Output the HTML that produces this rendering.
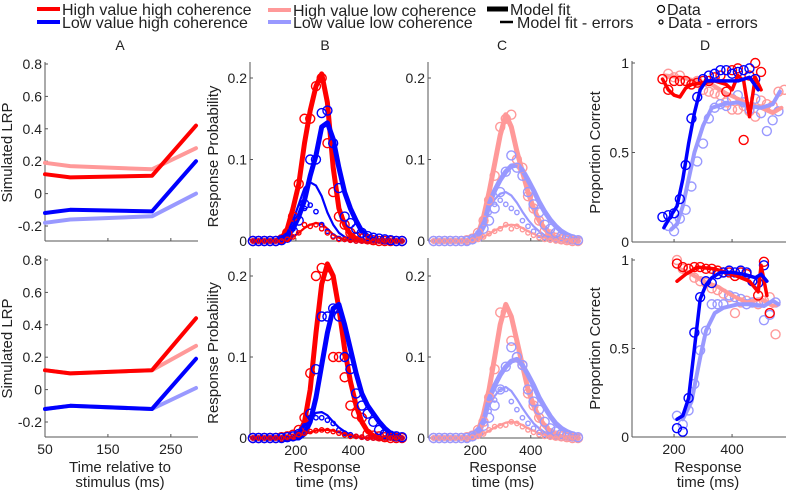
<!DOCTYPE html>
<html><head><meta charset="utf-8"><style>
body{margin:0;background:#fff}
svg text{font-family:"Liberation Sans",sans-serif;fill:#222}
</style></head><body>
<svg id="fig" width="786" height="490" viewBox="0 0 786 490" xmlns="http://www.w3.org/2000/svg">
<g>
<line x1="37" y1="9" x2="60" y2="9" stroke="#f00" stroke-width="4"/>
<text x="62" y="15" font-size="16">High value high coherence</text>
<line x1="37" y1="22" x2="60" y2="22" stroke="#00f" stroke-width="4"/>
<text x="62" y="28" font-size="16">Low value high coherence</text>
<line x1="268" y1="10" x2="291" y2="10" stroke="#ff9999" stroke-width="4"/>
<text x="293" y="16" font-size="16">High value low coherence</text>
<line x1="268" y1="22" x2="291" y2="22" stroke="#9999ff" stroke-width="4"/>
<text x="293" y="28" font-size="16">Low value low coherence</text>
<line x1="487" y1="9" x2="508" y2="9" stroke="#000" stroke-width="5"/>
<text x="510" y="15" font-size="16">Model fit</text>
<line x1="500" y1="22" x2="513" y2="22" stroke="#000" stroke-width="2.5"/>
<text x="517" y="28" font-size="16">Model fit - errors</text>
<circle cx="661" cy="9" r="3.5" fill="none" stroke="#000" stroke-width="1.2"/>
<text x="667" y="15" font-size="16">Data</text>
<circle cx="661" cy="22" r="2" fill="none" stroke="#000" stroke-width="1.2"/>
<text x="668" y="28" font-size="16">Data - errors</text>
</g>
<text x="120" y="50" font-size="14" text-anchor="middle">A</text>
<text x="325" y="50" font-size="14" text-anchor="middle">B</text>
<text x="502" y="50" font-size="14" text-anchor="middle">C</text>
<text x="705" y="50" font-size="14" text-anchor="middle">D</text>
</svg>
<script>
// ---------- Panel A data ----------
const aT = [50, 90, 220, 290];
const aTopRed = [0.12, 0.10, 0.11, 0.42];
const aTopPink = [0.19, 0.17, 0.15, 0.28];
const aTopBlue = [-0.12, -0.10, -0.11, 0.20];
const aTopLBlue = [-0.18, -0.16, -0.14, 0.0];
const aBotRed = [0.12, 0.10, 0.12, 0.44];
const aBotPink = [0.12, 0.10, 0.12, 0.27];
const aBotBlue = [-0.12, -0.10, -0.12, 0.19];
const aBotLBlue = [-0.12, -0.10, -0.12, 0.01];
const aYTicks = [0.8, 0.6, 0.4, 0.2, 0, -0.2];
const aYTickLabels = ["0.8", "0.6", "0.4", "0.2", "0", "-0.2"];
const aXTicks = [50, 150, 250];
// ---------- Panels B/C data ----------
const rtBins = [50,70,90,110,130,150,170,190,210,230,250,270,290,310,330,350,370,390,410,430,450,470,490,510,530,550,570];
const bTopRedFit = [0,0,0,0,0,0.003,0.015,0.04,0.07,0.12,0.16,0.19,0.205,0.17,0.09,0.04,0.02,0.008,0.003,0,0,0,0,0,0,0,0];
const bTopBlueFit = [0,0,0,0,0,0,0.005,0.015,0.03,0.05,0.08,0.105,0.14,0.145,0.125,0.09,0.06,0.04,0.025,0.012,0.006,0.002,0,0,0,0,0];
const bTopBlueErrFit = [0,0,0,0,0,0.003,0.01,0.025,0.045,0.065,0.072,0.068,0.055,0.035,0.02,0.01,0.005,0.002,0,0,0,0,0,0,0,0,0];
const bTopRedErrFit = [0,0,0,0,0,0,0,0.005,0.01,0.016,0.02,0.022,0.021,0.015,0.008,0.004,0.002,0,0,0,0,0,0,0,0,0,0];
const bTopRedData = [0,0,0,0,0,0.002,0.01,0.03,0.07,0.15,0.15,0.19,0.2,0.12,0.06,0.03,0.02,0.01,0.005,0.003,0.002,0.001,0,0,0,0,0];
const bTopBlueData = [0,0,0,0,0,0.001,0.004,0.012,0.025,0.045,0.1,0.1,0.157,0.16,0.12,0.065,0.03,0.022,0.015,0.01,0.006,0.004,0.003,0.002,0.001,0,0];
const bTopBlueErrData = [0,0,0,0,0,0.002,0.006,0.015,0.03,0.04,0.044,0.036,0.02,0.012,0.006,0.003,0.002,0.001,0,0,0,0,0,0,0,0,0];
const bTopRedErrData = [0,0,0,0,0,0,0.002,0.005,0.01,0.02,0.018,0.02,0.015,0.01,0.005,0.002,0.002,0.001,0,0,0,0,0,0,0,0,0];
const bBotRedFit = [0,0,0,0,0,0,0,0,0.005,0.02,0.06,0.13,0.19,0.215,0.2,0.16,0.11,0.07,0.04,0.02,0.008,0.003,0,0,0,0,0];
const bBotBlueFit = [0,0,0,0,0,0,0,0,0,0.005,0.02,0.05,0.09,0.13,0.16,0.165,0.14,0.11,0.08,0.055,0.04,0.03,0.02,0.012,0.006,0.003,0];
const bBotBlueErrFit = [0,0,0,0,0,0,0,0.002,0.006,0.015,0.025,0.031,0.032,0.028,0.02,0.013,0.008,0.004,0.002,0,0,0,0,0,0,0,0];
const bBotRedErrFit = [0,0,0,0,0,0,0,0.001,0.003,0.005,0.007,0.009,0.01,0.01,0.009,0.007,0.005,0.003,0.002,0.001,0,0,0,0,0,0,0];
const bBotRedData = [0,0,0,0,0,0.001,0.002,0.004,0.01,0.025,0.08,0.2,0.21,0.2,0.1,0.1,0.075,0.04,0.03,0.025,0.005,0.003,0.002,0.001,0,0,0];
const bBotBlueData = [0,0,0,0,0,0,0.001,0.002,0.005,0.01,0.03,0.085,0.15,0.15,0.16,0.15,0.1,0.085,0.055,0.04,0.03,0.02,0.01,0.005,0.003,0.002,0.001];
const bBotBlueErrData = [0,0,0,0,0,0,0,0.002,0.006,0.015,0.025,0.025,0.025,0.022,0.018,0.01,0.006,0.004,0.002,0.001,0,0,0,0,0,0,0];
const bBotRedErrData = [0,0,0,0,0,0,0.001,0.002,0.004,0.006,0.008,0.009,0.01,0.009,0.008,0.006,0.004,0.002,0.002,0.001,0,0,0,0,0,0,0];
const cTopPinkFit = [0,0,0,0,0,0,0,0.002,0.008,0.03,0.06,0.095,0.13,0.155,0.14,0.11,0.085,0.06,0.04,0.025,0.015,0.008,0.004,0.002,0,0,0];
const cTopLBlueFit = [0,0,0,0,0,0,0,0.002,0.005,0.018,0.045,0.062,0.075,0.085,0.092,0.093,0.087,0.075,0.062,0.048,0.036,0.026,0.018,0.012,0.008,0.005,0.003];
const cTopLBlueErrFit = [0,0,0,0,0,0,0,0.004,0.012,0.025,0.04,0.051,0.058,0.06,0.056,0.047,0.036,0.026,0.018,0.012,0.007,0.004,0.002,0,0,0,0];
const cTopPinkErrFit = [0,0,0,0,0,0,0,0,0.002,0.005,0.009,0.013,0.016,0.019,0.02,0.019,0.016,0.012,0.009,0.006,0.004,0.002,0,0,0,0,0];
const cTopPinkData = [0,0,0,0,0,0,0.001,0.003,0.01,0.025,0.05,0.08,0.14,0.15,0.155,0.1,0.09,0.055,0.04,0.025,0.012,0.008,0.004,0.002,0.001,0,0];
const cTopLBlueData = [0,0,0,0,0,0,0,0.002,0.005,0.015,0.025,0.04,0.06,0.085,0.105,0.09,0.08,0.06,0.045,0.035,0.02,0.015,0.01,0.006,0.004,0.002,0.001];
const cTopLBlueErrData = [0,0,0,0,0,0,0,0.003,0.01,0.02,0.035,0.045,0.05,0.045,0.04,0.035,0.025,0.018,0.012,0.007,0.004,0.002,0.001,0,0,0,0];
const cTopPinkErrData = [0,0,0,0,0,0,0,0.001,0.002,0.005,0.009,0.012,0.015,0.02,0.015,0.018,0.014,0.01,0.007,0.004,0.002,0.001,0,0,0,0,0];
const cBotPinkFit = [0,0,0,0,0,0,0,0.002,0.008,0.03,0.06,0.1,0.14,0.165,0.15,0.12,0.09,0.06,0.04,0.025,0.015,0.008,0.004,0.002,0,0,0];
const cBotLBlueFit = [0,0,0,0,0,0,0,0.002,0.005,0.02,0.048,0.065,0.078,0.088,0.095,0.097,0.09,0.078,0.065,0.05,0.038,0.027,0.018,0.012,0.008,0.005,0.003];
const cBotLBlueErrFit = [0,0,0,0,0,0,0,0.004,0.012,0.025,0.04,0.052,0.06,0.063,0.058,0.048,0.037,0.027,0.018,0.012,0.007,0.004,0.002,0,0,0,0];
const cBotPinkErrFit = [0,0,0,0,0,0,0,0,0.002,0.005,0.009,0.013,0.016,0.019,0.02,0.019,0.016,0.012,0.009,0.006,0.004,0.002,0,0,0,0,0];
const cBotPinkData = [0,0,0,0,0,0,0.001,0.003,0.01,0.02,0.05,0.085,0.155,0.155,0.12,0.1,0.09,0.055,0.04,0.025,0.012,0.006,0.003,0.002,0.001,0,0];
const cBotLBlueData = [0,0,0,0,0,0,0,0.002,0.006,0.015,0.025,0.04,0.06,0.088,0.112,0.1,0.09,0.06,0.045,0.035,0.02,0.012,0.008,0.005,0.003,0.002,0.001];
const cBotLBlueErrData = [0,0,0,0,0,0,0,0.003,0.01,0.02,0.033,0.047,0.06,0.06,0.045,0.035,0.025,0.018,0.012,0.007,0.004,0.002,0.001,0,0,0,0];
const cBotPinkErrData = [0,0,0,0,0,0,0,0.001,0.002,0.005,0.01,0.014,0.015,0.016,0.02,0.018,0.014,0.01,0.007,0.004,0.002,0.001,0,0,0,0,0];
const bcYTicks = [0, 0.1, 0.2];
const bcYTickLabels = ["0", "0.1", "0.2"];
const bcXTicks = [200, 400];
// ---------- Panel D data ----------
const dTopRedT = [160,180,200,220,240,260,300,340,380,400,420,440,460,480,500];
const dTopRedV = [0.91,0.85,0.82,0.81,0.86,0.88,0.89,0.90,0.88,0.85,0.93,0.90,0.70,0.92,0.85];
const dTopBlueT = [165,190,210,230,250,270,290,310,360,420,460,490];
const dTopBlueV = [0.08,0.15,0.20,0.35,0.55,0.72,0.85,0.90,0.90,0.90,0.92,0.85];
const dTopLBlueT = [190,210,230,250,270,300,330,370,420,460,500,540,565];
const dTopLBlueV = [0.07,0.10,0.20,0.35,0.50,0.65,0.75,0.77,0.78,0.76,0.75,0.77,0.84];
const dTopPinkT = [170,220,280,330,380,420,460,500,540,570];
const dTopPinkV = [0.93,0.92,0.90,0.88,0.83,0.80,0.77,0.75,0.72,0.75];
const dTopBlueDataT = [160,180,200,220,240,260,280,300,320,340,360,380,400,420,440,460,480];
const dTopBlueDataV = [0.14,0.15,0.16,0.24,0.43,0.69,0.81,0.91,0.93,0.94,0.96,0.96,0.94,0.95,0.96,0.97,0.91];
const dTopRedDataT = [160,180,200,220,240,260,280,300,320,340,360,380,400,420,440,460,480,500];
const dTopRedDataV = [0.91,0.85,0.9,0.9,0.9,0.88,0.89,0.9,0.9,0.92,0.93,0.84,0.96,0.97,0.57,0.93,1.0,0.95];
const dTopLBlueDataT = [180,200,220,240,260,280,300,320,340,360,380,400,420,440,460,480,500,520,540,560];
const dTopLBlueDataV = [0.09,0.06,0.13,0.18,0.31,0.45,0.55,0.69,0.75,0.77,0.76,0.8,0.82,0.78,0.74,0.8,0.72,0.62,0.68,0.73];
const dTopPinkDataT = [180,200,220,240,260,280,300,320,340,360,380,400,420,440,460,480,500,520,540,560,580];
const dTopPinkDataV = [0.94,0.92,0.93,0.9,0.88,0.9,0.85,0.84,0.83,0.82,0.78,0.74,0.74,0.76,0.73,0.7,0.79,0.77,0.76,0.84,0.85];
const dBotRedT = [210,240,280,340,400,460,490,500,520];
const dBotRedV = [0.88,0.92,0.96,0.95,0.92,0.88,0.82,0.97,0.80];
const dBotBlueT = [210,230,250,270,290,310,330,360,400,440,480,500,520];
const dBotBlueV = [0.10,0.12,0.22,0.50,0.78,0.86,0.90,0.93,0.93,0.92,0.90,0.92,0.88];
const dBotLBlueT = [230,260,290,310,340,370,420,470,510,540,560];
const dBotLBlueV = [0.10,0.20,0.45,0.60,0.70,0.73,0.75,0.75,0.74,0.77,0.75];
const dBotPinkT = [220,260,300,350,400,450,500,540,560];
const dBotPinkV = [0.95,0.92,0.88,0.85,0.80,0.76,0.78,0.74,0.75];
const dBotBlueDataT = [210,230,250,270,290,310,330,350,370,390,410,430,450,470,490,510];
const dBotBlueDataV = [0.05,0.03,0.22,0.59,0.79,0.88,0.87,0.92,0.93,0.94,0.93,0.94,0.93,0.88,0.87,0.97];
const dBotRedDataT = [210,230,250,270,290,310,330,350,370,390,410,430,450,470,490,510,530];
const dBotRedDataV = [0.98,0.96,0.95,0.96,0.96,0.95,0.95,0.94,0.93,0.93,0.91,0.93,0.92,0.88,0.8,0.99,0.7];
const dBotLBlueDataT = [210,230,250,270,290,310,330,350,370,390,410,430,450,470,490,510,530,550];
const dBotLBlueDataV = [0.12,0.07,0.15,0.3,0.49,0.6,0.75,0.75,0.75,0.8,0.79,0.78,0.75,0.76,0.76,0.66,0.69,0.76];
const dBotPinkDataT = [210,230,250,270,290,310,330,350,370,390,410,430,450,470,490,510,530,550];
const dBotPinkDataV = [1.0,0.95,0.95,0.9,0.88,0.87,0.84,0.83,0.81,0.79,0.7,0.76,0.77,0.76,0.75,0.77,0.79,0.58];
const dYTicks = [0, 0.5, 1];
const dYTickLabels = ["0", "0.5", "1"];
const dXTicks = [200, 400];

const NS = "http://www.w3.org/2000/svg";
const svg = document.getElementById("fig");
const RED = "#ff0000", BLUE = "#0000ff", PINK = "#ff9999", LBLUE = "#9999ff";

function mk(tag, attrs, parent) {
  const e = document.createElementNS(NS, tag);
  for (const k in attrs) e.setAttribute(k, attrs[k]);
  (parent || svg).appendChild(e);
  return e;
}
function makeScale(d0, d1, p0, p1) { return v => p0 + (v - d0) / (d1 - d0) * (p1 - p0); }

function axes(g, P, yTicks, yLabels, xTicks) {
  const ax = mk("line", {x1: P.x0, y1: P.yTop, x2: P.x0, y2: P.yBot, stroke: "#555", "stroke-width": 1}, g);
  
  
  const bx = mk("line", {x1: P.x0, y1: P.yBot, x2: P.x1, y2: P.yBot, stroke: "#555", "stroke-width": 1}, g);
  
  
  yTicks.forEach((v, i) => {
    const y = P.ys(v);
    mk("line", {x1: P.x0, y1: y, x2: P.x0 + 3, y2: y, stroke: "#555"}, g);
    const t = mk("text", {x: P.x0 - 3, y: y + 5, "font-size": 14, "text-anchor": "end"}, g);
    t.textContent = yLabels[i];
    
    
  });
  xTicks.forEach(v => {
    const x = P.xs(v);
    mk("line", {x1: x, y1: P.yBot, x2: x, y2: P.yBot - 3, stroke: "#555"}, g);
    if (P.showX) {
      const t = mk("text", {x: x, y: P.yBot + 17, "font-size": 14, "text-anchor": "middle"}, g);
      t.textContent = String(v);
      
      
    }
  });
}
function line(g, P, xs, ys, color, w, name) {
  const pts = xs.map((x, i) => P.xs(x).toFixed(1) + "," + P.ys(ys[i]).toFixed(1)).join(" ");
  const e = mk("polyline", {points: pts, fill: "none", stroke: color, "stroke-width": w, "stroke-linejoin": "round", "stroke-linecap": "round"}, g);
  
  
}
function dots(g, P, xs, ys, color, r, name) {
  xs.forEach((x, i) => {
    const c = mk("circle", {cx: P.xs(x), cy: P.ys(ys[i]), r: r, fill: "none", stroke: color, "stroke-width": 1.4}, g);
    
    
  });
}
function ylabel(x, y, txt) {
  const t = mk("text", {x: x, y: y, "font-size": 15, "text-anchor": "middle", transform: `rotate(-90 ${x} ${y})`});
  t.textContent = txt;
  
  
}
function xlabel(x, y, l1, l2) {
  const t = mk("text", {x: x, y: y, "font-size": 15, "text-anchor": "middle"});
  t.textContent = l1;
  
  
  const t2 = mk("text", {x: x, y: y + 15, "font-size": 15, "text-anchor": "middle"});
  t2.textContent = l2;
  
  
}
function group(name) {
  const g = mk("g", {});
  
  
  return g;
}

const rows = [
  {a: [64, 226, 241, 62], bc: [241, 62], d: [242, 63], showX: false, key: "top"},
  {a: [260, 422, 437, 258], bc: [438, 258], d: [437, 260], showX: true, key: "bottom"}
];

rows.forEach((R, ri) => {
  const gA = group("panel-a-" + R.key);
  const PA = {x0: 45, x1: 198, yTop: R.a[3], yBot: R.a[2], xs: makeScale(50, 290, 45, 196), ys: makeScale(0.8, -0.2, R.a[0], R.a[1]), showX: R.showX};
  axes(gA, PA, aYTicks, aYTickLabels, aXTicks);
  const A = ri === 0 ? [aTopLBlue, aTopBlue, aTopPink, aTopRed] : [aBotLBlue, aBotBlue, aBotPink, aBotRed];
  line(gA, PA, aT, A[0], LBLUE, 4, "lrp-low-value-low-coherence");
  line(gA, PA, aT, A[1], BLUE, 4, "lrp-low-value-high-coherence");
  line(gA, PA, aT, A[2], PINK, 4, "lrp-high-value-low-coherence");
  line(gA, PA, aT, A[3], RED, 4, "lrp-high-value-high-coherence");
  ylabel(12, (R.a[0] + R.a[2]) / 2, "Simulated LRP");

  const gB = group("panel-b-" + R.key);
  const PB = {x0: 250, x1: 402, yTop: R.bc[1], yBot: R.bc[0], xs: makeScale(40, 570, 250, 402), ys: makeScale(0, 0.1, R.bc[0], R.bc[0] - (ri === 0 ? 81.5 : 81)), showX: R.showX};
  axes(gB, PB, bcYTicks, bcYTickLabels, bcXTicks);
  const B = ri === 0 ? [bTopRedFit, bTopBlueFit, bTopBlueErrFit, bTopRedErrFit, bTopRedData, bTopBlueData, bTopBlueErrData, bTopRedErrData]
                     : [bBotRedFit, bBotBlueFit, bBotBlueErrFit, bBotRedErrFit, bBotRedData, bBotBlueData, bBotBlueErrData, bBotRedErrData];
  line(gB, PB, rtBins, B[0], RED, 5, "fit-high-value-high-coherence");
  line(gB, PB, rtBins, B[1], BLUE, 5, "fit-low-value-high-coherence");
  line(gB, PB, rtBins, B[2], BLUE, 2.2, "fit-errors-low-value-high-coherence");
  line(gB, PB, rtBins, B[3], RED, 2.2, "fit-errors-high-value-high-coherence");
  dots(gB, PB, rtBins, B[4], RED, 4.5, "data-high-value-high-coherence");
  dots(gB, PB, rtBins, B[5], BLUE, 4.5, "data-low-value-high-coherence");
  dots(gB, PB, rtBins, B[6], BLUE, 2.2, "data-errors-low-value-high-coherence");
  dots(gB, PB, rtBins, B[7], RED, 2.2, "data-errors-high-value-high-coherence");
  ylabel(218, (R.bc[0] + R.bc[1]) / 2 + 5, "Response Probability");

  const gC = group("panel-c-" + R.key);
  const PC = {x0: 428, x1: 578, yTop: R.bc[1], yBot: R.bc[0], xs: makeScale(30, 570, 428, 578), ys: PB.ys, showX: R.showX};
  axes(gC, PC, bcYTicks, bcYTickLabels, bcXTicks);
  const C = ri === 0 ? [cTopPinkFit, cTopLBlueFit, cTopLBlueErrFit, cTopPinkErrFit, cTopPinkData, cTopLBlueData, cTopLBlueErrData, cTopPinkErrData]
                     : [cBotPinkFit, cBotLBlueFit, cBotLBlueErrFit, cBotPinkErrFit, cBotPinkData, cBotLBlueData, cBotLBlueErrData, cBotPinkErrData];
  line(gC, PC, rtBins, C[0], PINK, 5, "fit-high-value-low-coherence");
  line(gC, PC, rtBins, C[1], LBLUE, 5, "fit-low-value-low-coherence");
  line(gC, PC, rtBins, C[2], LBLUE, 2.2, "fit-errors-low-value-low-coherence");
  line(gC, PC, rtBins, C[3], PINK, 2.2, "fit-errors-high-value-low-coherence");
  dots(gC, PC, rtBins, C[4], PINK, 4.5, "data-high-value-low-coherence");
  dots(gC, PC, rtBins, C[5], LBLUE, 4.5, "data-low-value-low-coherence");
  dots(gC, PC, rtBins, C[6], LBLUE, 2.2, "data-errors-low-value-low-coherence");
  dots(gC, PC, rtBins, C[7], PINK, 2.2, "data-errors-high-value-low-coherence");

  const gD = group("panel-d-" + R.key);
  const PD = {x0: 632, x1: 786, yTop: R.d[1] - 2, yBot: R.d[0], xs: makeScale(55, 586, 632, 786), ys: makeScale(0, 1, R.d[0], R.d[1]), showX: R.showX};
  axes(gD, PD, dYTicks, dYTickLabels, dXTicks);
  if (ri === 0) {
    dots(gD, PD, dTopPinkDataT, dTopPinkDataV, PINK, 4.5, "data-high-value-low-coherence");
    dots(gD, PD, dTopLBlueDataT, dTopLBlueDataV, LBLUE, 4.5, "data-low-value-low-coherence");
    line(gD, PD, dTopPinkT, dTopPinkV, PINK, 4, "fit-high-value-low-coherence");
    line(gD, PD, dTopLBlueT, dTopLBlueV, LBLUE, 4, "fit-low-value-low-coherence");
    dots(gD, PD, dTopRedDataT, dTopRedDataV, RED, 4.5, "data-high-value-high-coherence");
    dots(gD, PD, dTopBlueDataT, dTopBlueDataV, BLUE, 4.5, "data-low-value-high-coherence");
    line(gD, PD, dTopRedT, dTopRedV, RED, 3.5, "fit-high-value-high-coherence");
    line(gD, PD, dTopBlueT, dTopBlueV, BLUE, 3.5, "fit-low-value-high-coherence");
  } else {
    dots(gD, PD, dBotPinkDataT, dBotPinkDataV, PINK, 4.5, "data-high-value-low-coherence");
    dots(gD, PD, dBotLBlueDataT, dBotLBlueDataV, LBLUE, 4.5, "data-low-value-low-coherence");
    line(gD, PD, dBotPinkT, dBotPinkV, PINK, 4, "fit-high-value-low-coherence");
    line(gD, PD, dBotLBlueT, dBotLBlueV, LBLUE, 4, "fit-low-value-low-coherence");
    dots(gD, PD, dBotRedDataT, dBotRedDataV, RED, 4.5, "data-high-value-high-coherence");
    dots(gD, PD, dBotBlueDataT, dBotBlueDataV, BLUE, 4.5, "data-low-value-high-coherence");
    line(gD, PD, dBotRedT, dBotRedV, RED, 3.5, "fit-high-value-high-coherence");
    line(gD, PD, dBotBlueT, dBotBlueV, BLUE, 3.5, "fit-low-value-high-coherence");
  }
  ylabel(600, (R.d[0] + R.d[1]) / 2, "Proportion Correct");
});

xlabel(120, 472, "Time relative to", "stimulus (ms)");
xlabel(327, 472, "Response", "time (ms)");
xlabel(503, 472, "Response", "time (ms)");
xlabel(708, 472, "Response", "time (ms)");
</script>
</body></html>
